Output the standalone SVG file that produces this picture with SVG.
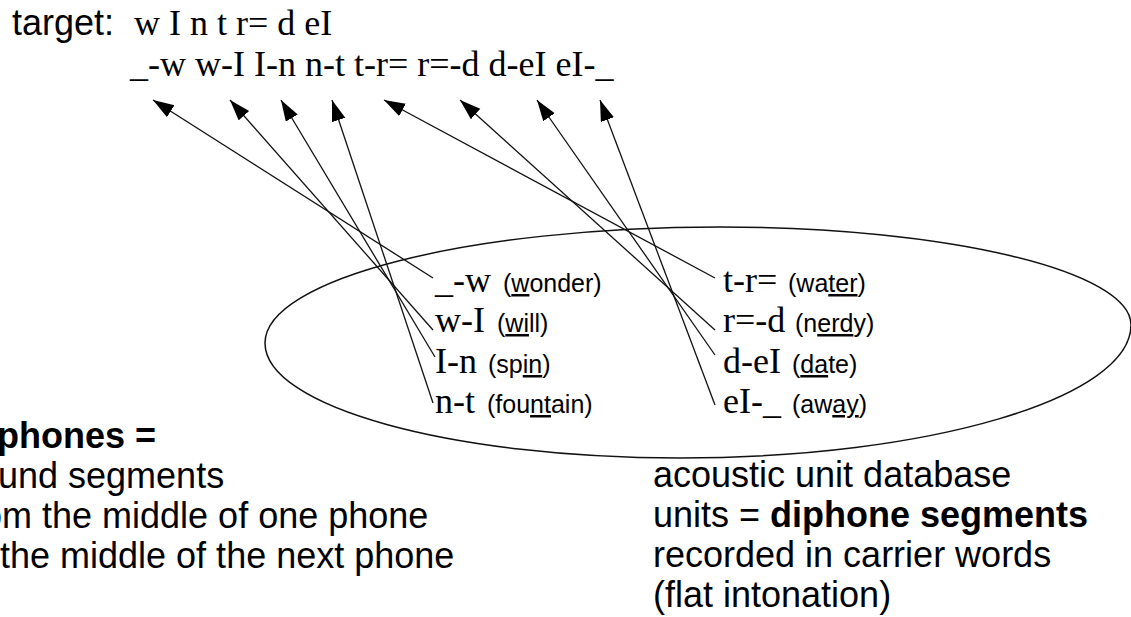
<svg xmlns="http://www.w3.org/2000/svg" width="1131" height="617" viewBox="0 0 1131 617">
  <style>
    .sans { font-family: "Liberation Sans", Arial, sans-serif; fill: #000; }
    .serif { font-family: "Liberation Serif", "Times New Roman", serif; fill: #000; }
    .big { font-size: 36px; }
    .word { font-size: 25px; }
    .bold { font-weight: bold; }
    .u { text-decoration: underline; }
    .conn { stroke: #111; stroke-width: 1.3; fill: none; marker-end: url(#head); }
    .db { stroke: #111; stroke-width: 1.5; fill: none; }
  </style>
  <defs>
    <marker id="head" markerUnits="userSpaceOnUse" markerWidth="22" markerHeight="15" refX="21" refY="7" orient="auto">
      <path d="M0,0 L21,7 L0,14 Z" fill="#000"/>
    </marker>
  </defs>

  <!-- target phone string and its diphone sequence -->
  <g id="target">
    <text class="sans big" x="12" y="35">target:</text>
    <text class="serif big" x="134" y="35">w I n t r= d eI</text>
    <text class="serif big" x="130" y="76">_-w w-I I-n n-t t-r= r=-d d-eI eI-_</text>
  </g>

  <!-- acoustic unit database outline -->
  <g id="database">
    <path class="db" d="M265,343 C265,279 469,227 720,227 C947,227 1131,271 1131,325 C1131,398 929,458 680,458 C451,458 265,407 265,343 Z"/>
  </g>

  <!-- connectors from stored units up to the target diphones -->
  <g id="connectors">
    <line class="conn" x1="433" y1="278" x2="153" y2="100"/>
    <line class="conn" x1="433" y1="330" x2="230" y2="100"/>
    <line class="conn" x1="435" y1="357" x2="281" y2="100"/>
    <line class="conn" x1="433" y1="403" x2="332" y2="100"/>
    <line class="conn" x1="715" y1="278" x2="384" y2="100"/>
    <line class="conn" x1="715" y1="330" x2="460" y2="100"/>
    <line class="conn" x1="715" y1="355" x2="537" y2="100"/>
    <line class="conn" x1="715" y1="405" x2="600" y2="100"/>
  </g>

  <!-- stored diphone units with their carrier words -->
  <g id="unit-sil-w">
    <text class="serif big" x="435" y="292">_-w</text>
    <text class="sans word" x="503" y="292">(<tspan class="u">w</tspan>onder)</text>
  </g>
  <g id="unit-w-I">
    <text class="serif big" x="435" y="332">w-I</text>
    <text class="sans word" x="497" y="332">(<tspan class="u">wi</tspan>ll)</text>
  </g>
  <g id="unit-I-n">
    <text class="serif big" x="435" y="373">I-n</text>
    <text class="sans word" x="488" y="373">(sp<tspan class="u">in</tspan>)</text>
  </g>
  <g id="unit-n-t">
    <text class="serif big" x="435" y="413">n-t</text>
    <text class="sans word" x="487" y="413">(fou<tspan class="u">nt</tspan>ain)</text>
  </g>
  <g id="unit-t-r">
    <text class="serif big" x="723" y="292">t-r=</text>
    <text class="sans word" x="788" y="292">(wa<tspan class="u">ter</tspan>)</text>
  </g>
  <g id="unit-r-d">
    <text class="serif big" x="723" y="332">r=-d</text>
    <text class="sans word" x="795" y="332">(n<tspan class="u">erd</tspan>y)</text>
  </g>
  <g id="unit-d-eI">
    <text class="serif big" x="723" y="373">d-eI</text>
    <text class="sans word" x="792" y="373">(<tspan class="u">da</tspan>te)</text>
  </g>
  <g id="unit-eI-sil">
    <text class="serif big" x="723" y="413">eI-_</text>
    <text class="sans word" x="792" y="413">(aw<tspan class="u">ay</tspan>)</text>
  </g>

  <!-- definition block, left -->
  <g id="definition">
    <text class="sans big bold" x="-3" y="448">phones =</text>
    <text class="sans big" x="-2" y="488">und segments</text>
    <text class="sans big" x="-18" y="528">om the middle of one phone</text>
    <text class="sans big" x="0" y="568">the middle of the next phone</text>
  </g>

  <!-- database description, right -->
  <g id="description">
    <text class="sans big" x="653" y="487">acoustic unit database</text>
    <text class="sans big" x="653" y="527">units = <tspan class="bold">diphone segments</tspan></text>
    <text class="sans big" x="653" y="567">recorded in carrier words</text>
    <text class="sans big" x="653" y="607">(flat intonation)</text>
  </g>
</svg>
